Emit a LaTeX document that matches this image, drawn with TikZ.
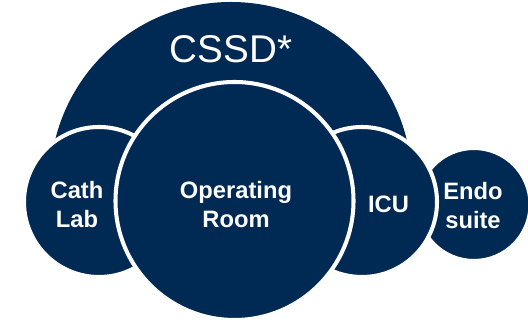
\documentclass[tikz,border=0pt]{standalone}
\usepackage{fontspec}
\setmainfont{Liberation Sans}
\usetikzlibrary{positioning}
\definecolor{navy}{RGB}{0,41,84}
\tikzset{
  zone/.style = {circle, fill=navy, draw=white, line width=2.3pt,
    inner sep=0pt},% cercle plein bleu marine
  zone_txt/.style = {align=center, inner sep=0pt, text=white,
    font=\fontsize{13.5}{16.5}\selectfont\bfseries},% texte des zones
}

\begin{document}
\begin{tikzpicture}
\useasboundingbox (0,0) rectangle (10.56,6.5);
% CSSD, only the upper half shows
\begin{scope}
  \clip (0,2.3) rectangle (10.56,6.5);
  \node [zone, draw=none, minimum size=7.24cm] (cssd) at (4.62,2.84) {};
\end{scope}
\node [text=white, font=\fontsize{22}{26}\selectfont] (cssd_txt)
  at ([yshift=-0.98cm]cssd.north) {CSSD*};
% the departments
\node [zone, minimum size=2.26cm] (endo) at (9.48,2.41) {};
\node [zone, minimum size=3.0cm] (icu) at (7.24,2.46) {};
\node [zone, minimum size=3.0cm] (cath) at (1.98,2.46) {};
\node [zone, minimum size=4.76cm] (or) at (4.69,2.48) {};
% labels
\node [zone_txt] (cath_txt) at ([xshift=-0.44cm,yshift=-0.06cm]cath.center) {Cath\\Lab};
\node [zone_txt] (or_txt) at ([xshift=0.03cm,yshift=-0.08cm]or.center) {Operating\\Room};
\node [zone_txt] (icu_txt) at ([xshift=0.53cm,yshift=-0.04cm]icu.center) {ICU};
\node [zone_txt] (endo_txt) at ([xshift=-0.02cm,yshift=-0.02cm]endo.center) {Endo\\suite};
\end{tikzpicture}
\end{document}
